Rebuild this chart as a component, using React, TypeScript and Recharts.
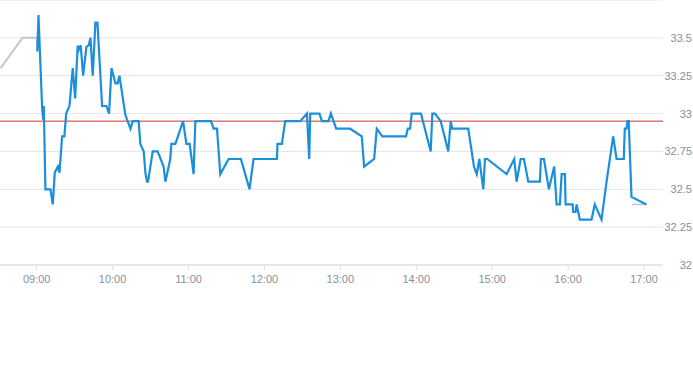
import React from "react";
import {
  LineChart,
  Line,
  XAxis,
  YAxis,
  CartesianGrid,
  ReferenceLine,
} from "recharts";

// minutes after the 09:00 open, and the price at that moment
const tradeMin = [
  0.5, 1.4, 4.3, 5.1, 5.6, 6.9, 10.9, 12.7, 14.3, 16.7,
  18.0, 20.1, 21.9, 23.3, 25.9, 28.5, 30.4, 32.4, 33.2, 34.8,
  36.7, 39.3, 41.1, 42.5, 44.3, 46.4, 48.0, 51.7, 55.1, 57.2,
  59.1, 62.2, 64.0, 65.4, 70.1, 74.1, 75.9, 80.6, 81.9, 84.6,
  85.9, 87.2, 88.0, 91.7, 95.6, 100.3, 101.7, 105.6, 106.4, 109.6,
  115.7, 118.3, 120.9, 124.0, 125.4, 137.8, 139.8, 142.5, 145.1, 151.7,
  161.4, 164.8, 168.2, 171.4, 189.9, 190.3, 193.8, 196.4, 208.3, 213.6,
  215.4, 216.2, 223.5, 225.4, 230.6, 232.5, 236.7, 247.7, 256.9, 258.8,
  266.7, 268.8, 273.2, 291.9, 293.3, 295.1, 296.4, 303.7, 311.4, 312.7,
  314.8, 319.3, 325.3, 327.2, 328.5, 341.1, 345.6, 347.8, 349.8, 353.0,
  354.3, 356.1, 371.4, 377.4, 379.3, 382.5, 385.1, 388.5, 397.7, 398.5,
  400.9, 404.8, 409.0, 410.9, 413.5, 414.9, 417.5, 418.0, 423.6, 424.0,
  425.9, 426.7, 429.3, 438.5, 441.1, 446.4, 450.4, 455.6, 458.3, 464.0,
  464.8, 466.1, 466.9, 467.9, 470.1, 481.9,
];
const tradeVal = [
  33.41, 33.65, 33.04, 32.96, 33.05, 32.5, 32.5, 32.4, 32.61, 32.65,
  32.61, 32.85, 32.85, 33.0, 33.05, 33.3, 33.1, 33.45, 33.42, 33.45,
  33.25, 33.44, 33.45, 33.5, 33.25, 33.6, 33.6, 33.05, 33.05, 33.0,
  33.3, 33.2, 33.2, 33.25, 32.99, 32.9, 32.95, 32.95, 32.8, 32.75,
  32.61, 32.55, 32.55, 32.75, 32.75, 32.65, 32.55, 32.7, 32.8, 32.8,
  32.95, 32.8, 32.8, 32.6, 32.95, 32.95, 32.9, 32.9, 32.6, 32.7,
  32.7, 32.6, 32.5, 32.7, 32.7, 32.8, 32.8, 32.95, 32.95, 33.0,
  32.7, 33.0, 33.0, 32.95, 32.95, 33.0, 32.9, 32.9, 32.85, 32.65,
  32.7, 32.9, 32.85, 32.85, 32.9, 32.9, 33.0, 33.0, 32.75, 33.0,
  33.0, 32.95, 32.75, 32.95, 32.9, 32.9, 32.65, 32.6, 32.7, 32.5,
  32.7, 32.7, 32.6, 32.7, 32.55, 32.7, 32.7, 32.55, 32.55, 32.7,
  32.7, 32.5, 32.65, 32.4, 32.4, 32.6, 32.6, 32.4, 32.4, 32.35,
  32.35, 32.4, 32.3, 32.3, 32.4, 32.3, 32.55, 32.85, 32.7, 32.7,
  32.9, 32.9, 32.95, 32.95, 32.45, 32.4,
];

// pre-open and after-close auction prices (grey)
const preMin = [-28.6, -11.2, 0, 0.6];
const preVal = [33.3, 33.5, 33.5, 33.41];
const postMin = [470.5, 481.9];
const postVal = [32.4, 32.4];

const prevClose = 32.95;

const yTicks = [32, 32.25, 32.5, 32.75, 33, 33.25, 33.5];
const xTicks = ["09:00", "10:00", "11:00", "12:00", "13:00", "14:00", "15:00", "16:00", "17:00"];

const OPEN = 9 * 60;
const toMin = (s: string) => {
  const [h, m] = s.split(":").map(Number);
  return h * 60 + m;
};
const fmtTime = (v: number) => {
  const h = Math.floor(v / 60);
  const m = Math.round(v % 60);
  return `${String(h).padStart(2, "0")}:${String(m).padStart(2, "0")}`;
};
const rows = (mins: number[], vals: number[]) =>
  mins.map((m, i) => ({ t: OPEN + m, v: vals[i] }));

const trade = rows(tradeMin, tradeVal);
const pre = rows(preMin, preVal);
const post = rows(postMin, postVal);

const font = "'Liberation Sans', Arial, sans-serif";
const tickGrey = "#8a9099";

function PriceTick(props: any) {
  const { x, y, payload } = props;
  return (
    <text
      x={x + 21}
      y={y}
      dy={4}
      textAnchor="end"
      fill={tickGrey}
      fontSize={11}
      fontFamily={font}
    >
      {payload.value}
    </text>
  );
}

export default function App() {
  return (
    <div style={{ position: "absolute", left: 0, top: 0, background: "#fff" }}>
      <LineChart
        width={693}
        height={365}
        margin={{ top: 0, right: 0, bottom: 70, left: 0 }}
      >
        <CartesianGrid vertical={false} stroke="#e3e5e8" />
        <XAxis
          dataKey="t"
          type="number"
          domain={[511, 1035]}
          ticks={xTicks.map(toMin)}
          tickFormatter={fmtTime}
          allowDataOverflow
          height={30}
          tickSize={5}
          tickMargin={5}
          stroke="#d9dce0"
          tick={{ fill: tickGrey, fontSize: 11, fontFamily: font }}
        />
        <YAxis
          orientation="right"
          type="number"
          domain={[32, 33.75]}
          ticks={yTicks}
          allowDataOverflow
          width={30}
          axisLine={false}
          tickLine={false}
          tick={<PriceTick />}
        />
        <ReferenceLine y={prevClose} stroke="#d0342c" strokeWidth={1} />
        <Line
          data={pre}
          dataKey="v"
          stroke="#c3c8ce"
          strokeWidth={2}
          dot={false}
          activeDot={false}
          isAnimationActive={false}
        />
        <Line
          data={post}
          dataKey="v"
          stroke="#b9c3d6"
          strokeWidth={1.5}
          dot={false}
          activeDot={false}
          isAnimationActive={false}
        />
        <Line
          data={trade}
          dataKey="v"
          type="linear"
          stroke="#1b8fdc"
          strokeWidth={2.2}
          dot={false}
          activeDot={false}
          isAnimationActive={false}
        />
      </LineChart>
    </div>
  );
}
